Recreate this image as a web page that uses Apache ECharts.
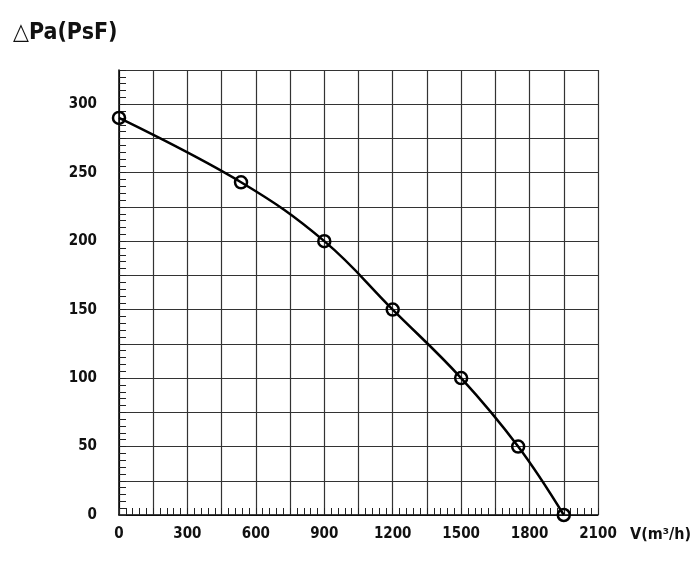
<!DOCTYPE html>
<html>
<head>
<meta charset="utf-8">
<script src="https://cdn.jsdelivr.net/npm/echarts@6/dist/echarts.min.js"></script>
<style>
  html, body { margin: 0; padding: 0; background: #fff; }
  #chart { width: 700px; height: 563px; }
</style>
</head>
<body>
<div id="chart"></div>
<script>
// airflow (m³/h) vs pressure (Pa)
const flow = [0, 535, 900, 1200, 1500, 1750, 1950];
const pressure = [290, 243, 200, 150, 100, 50, 0];

const font = '"DejaVu Sans Condensed", "DejaVu Sans", sans-serif';

const chart = echarts.init(document.getElementById('chart'));

chart.setOption({
  animation: false,
  title: {
    text: '△Pa(PsF)',
    left: 8,
    top: 17,
    textStyle: {
      fontFamily: font,
      fontSize: 23,
      fontWeight: 'bold',
      color: '#111',
    },
  },
  grid: {
    left: 119,
    top: 70,
    right: 102,
    bottom: 48,
  },
  xAxis: {
    type: 'value',
    min: 0,
    max: 2100,
    interval: 150,
    name: 'V(m³/h)',
    nameLocation: 'end',
    nameGap: 32,
    nameTextStyle: {
      fontFamily: font,
      fontSize: 16,
      fontWeight: 'bold',
      color: '#111',
      verticalAlign: 'top',
      padding: [12, 0, 0, 0],
    },
    axisLine: { lineStyle: { color: '#000', width: 1.5 } },
    axisTick: { show: true, inside: true, length: 7, lineStyle: { color: '#222' } },
    minorTick: { show: true, splitNumber: 5, length: 7, lineStyle: { color: '#222' } },
    splitLine: { show: true, lineStyle: { color: '#333', width: 1.2 } },
    axisLabel: {
      fontFamily: font,
      fontSize: 15,
      fontWeight: 'bold',
      color: '#111',
      margin: 12,
      formatter: (v) => (v % 300 === 0 ? String(v) : ''),
    },
  },
  yAxis: {
    type: 'value',
    min: 0,
    max: 325,
    interval: 25,
    axisLine: { show: true, lineStyle: { color: '#000', width: 1.5 } },
    axisTick: { show: true, inside: true, length: 7, lineStyle: { color: '#222' } },
    minorTick: { show: true, splitNumber: 5, length: 7, lineStyle: { color: '#222' } },
    splitLine: { show: true, lineStyle: { color: '#333', width: 1.2 } },
    axisLabel: {
      fontFamily: font,
      fontSize: 15,
      fontWeight: 'bold',
      color: '#111',
      margin: 22,
      formatter: (v) => (v % 50 === 0 ? String(v) : ''),
    },
  },
  series: [
    {
      type: 'line',
      data: flow.map((f, i) => [f, pressure[i]]),
      smooth: 0.4,
      symbol: 'circle',
      symbolSize: 12,
      lineStyle: { color: '#000', width: 2.5 },
      itemStyle: { color: 'rgba(255,255,255,0)', borderColor: '#000', borderWidth: 2.5 },
    },
  ],
});
</script>
</body>
</html>
